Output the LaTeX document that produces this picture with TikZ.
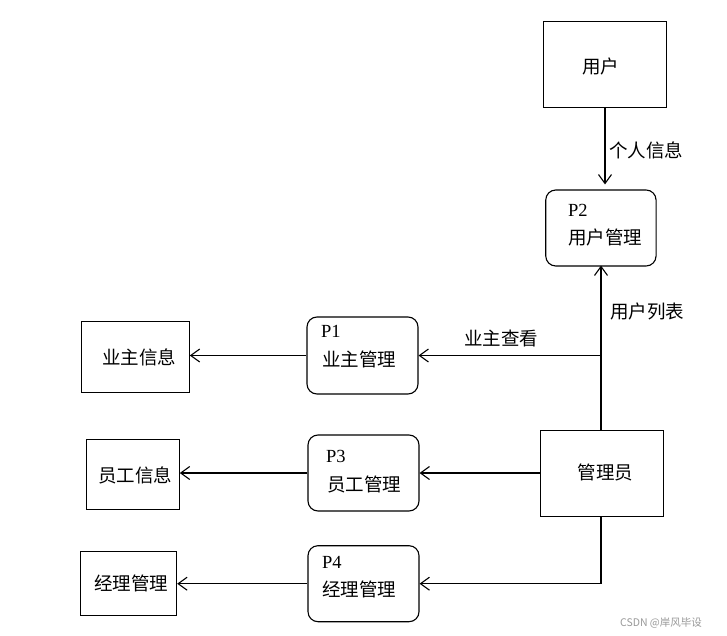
\documentclass[tikz,border=0pt]{standalone}
\usepackage{fontspec}
\setmainfont{Liberation Serif}
\newfontfamily\cjk{Noto Sans CJK SC}
\usetikzlibrary{arrows.meta}
\tikzset{
  box/.style={draw, line width=1pt, inner sep=0pt},
  proc/.style={draw, line width=1.1pt, rounded corners=10pt, inner sep=0pt},
  txt/.style={inner sep=0pt, font=\fontsize{18.5}{20}\selectfont\cjk},
  pid/.style={inner sep=0pt, anchor=west, font=\fontsize{18.5}{20}\selectfont},
  ptxt/.style={txt, anchor=west},
  flow/.style={draw, line width=1.1pt, -{Straight Barb[length=9pt,width=13pt,line width=1.1pt]}},
  plain/.style={draw, line width=1.1pt}
}
\begin{document}
\begin{tikzpicture}[x=1pt,y=-1pt]
\useasboundingbox[fill=white] (0,0) rectangle (727,636);
% external entities
\node[box, minimum width=123.4pt, minimum height=85.6pt] (user) at (605,64.5) {};
\node[txt] (userT) at (600.5,66.5) {用户};
\node[box, minimum width=122.6pt, minimum height=85.6pt] (admin) at (602,473.5) {};
\node[txt] (adminT) at (605.5,472) {管理员};
\node[box, minimum width=107.6pt, minimum height=70.6pt] (info1) at (135.5,357) {};
\node[txt] (info1T) at (139,357) {业主信息};
\node[box, minimum width=92.6pt, minimum height=69.7pt] (info3) at (133,474.2) {};
\node[txt] (info3T) at (135,475) {员工信息};
\node[box, minimum width=96pt, minimum height=64.3pt] (info4) at (128.7,583.8) {};
\node[txt] (info4T) at (131,583) {经理管理};
% processes
\node[proc, minimum width=110.3pt, minimum height=76pt] (p2) at (600.9,228) {};
\node[pid] (p2id) at (568,210) {P2};
\node[ptxt] (p2T) at (568,237) {用户管理};
\node[proc, minimum width=111pt, minimum height=77pt] (p1) at (362.5,355.5) {};
\node[pid] (p1id) at (321,331) {P1};
\node[ptxt] (p1T) at (322,359) {业主管理};
\node[proc, minimum width=111pt, minimum height=76pt] (p3) at (363.5,473) {};
\node[pid] (p3id) at (326,456) {P3};
\node[ptxt] (p3T) at (327,484) {员工管理};
\node[proc, minimum width=111pt, minimum height=76pt] (p4) at (363.5,583.7) {};
\node[pid] (p4id) at (322,562) {P4};
\node[ptxt] (p4T) at (322,589) {经理管理};
% connectors
\draw[flow, shorten >=5pt] (user.south) -- (user.south |- p2.north);
\node[txt] (l1) at (646,150) {个人信息};
\coordinate (j1) at ([xshift=-1pt]admin.north |- p1.east);
\draw[flow] ([xshift=-1pt]admin.north) -- ([xshift=-1pt,yshift=1pt]admin.north |- p2.south);
\node[txt] (l2) at (647,311) {用户列表};
\draw[flow] (j1) -- (p1.east);
\node[txt] (l3) at (501,338) {业主查看};
\draw[flow] (admin.west |- p3.east) -- (p3.east);
\draw[flow] ([xshift=-1pt]admin.south) |- (p4.east);
\draw[flow] (p1.west) -- (p1.west -| info1.east);
\draw[flow] (p3.west) -- (p3.west -| info3.east);
\draw[flow] (p4.west) -- (p4.west -| info4.east);
% watermark
\node[inner sep=0pt, text=black!40, font=\fontsize{10.5}{12}\selectfont\cjk] (wm) at (661,623) {CSDN @岸风毕设};
\end{tikzpicture}
\end{document}
